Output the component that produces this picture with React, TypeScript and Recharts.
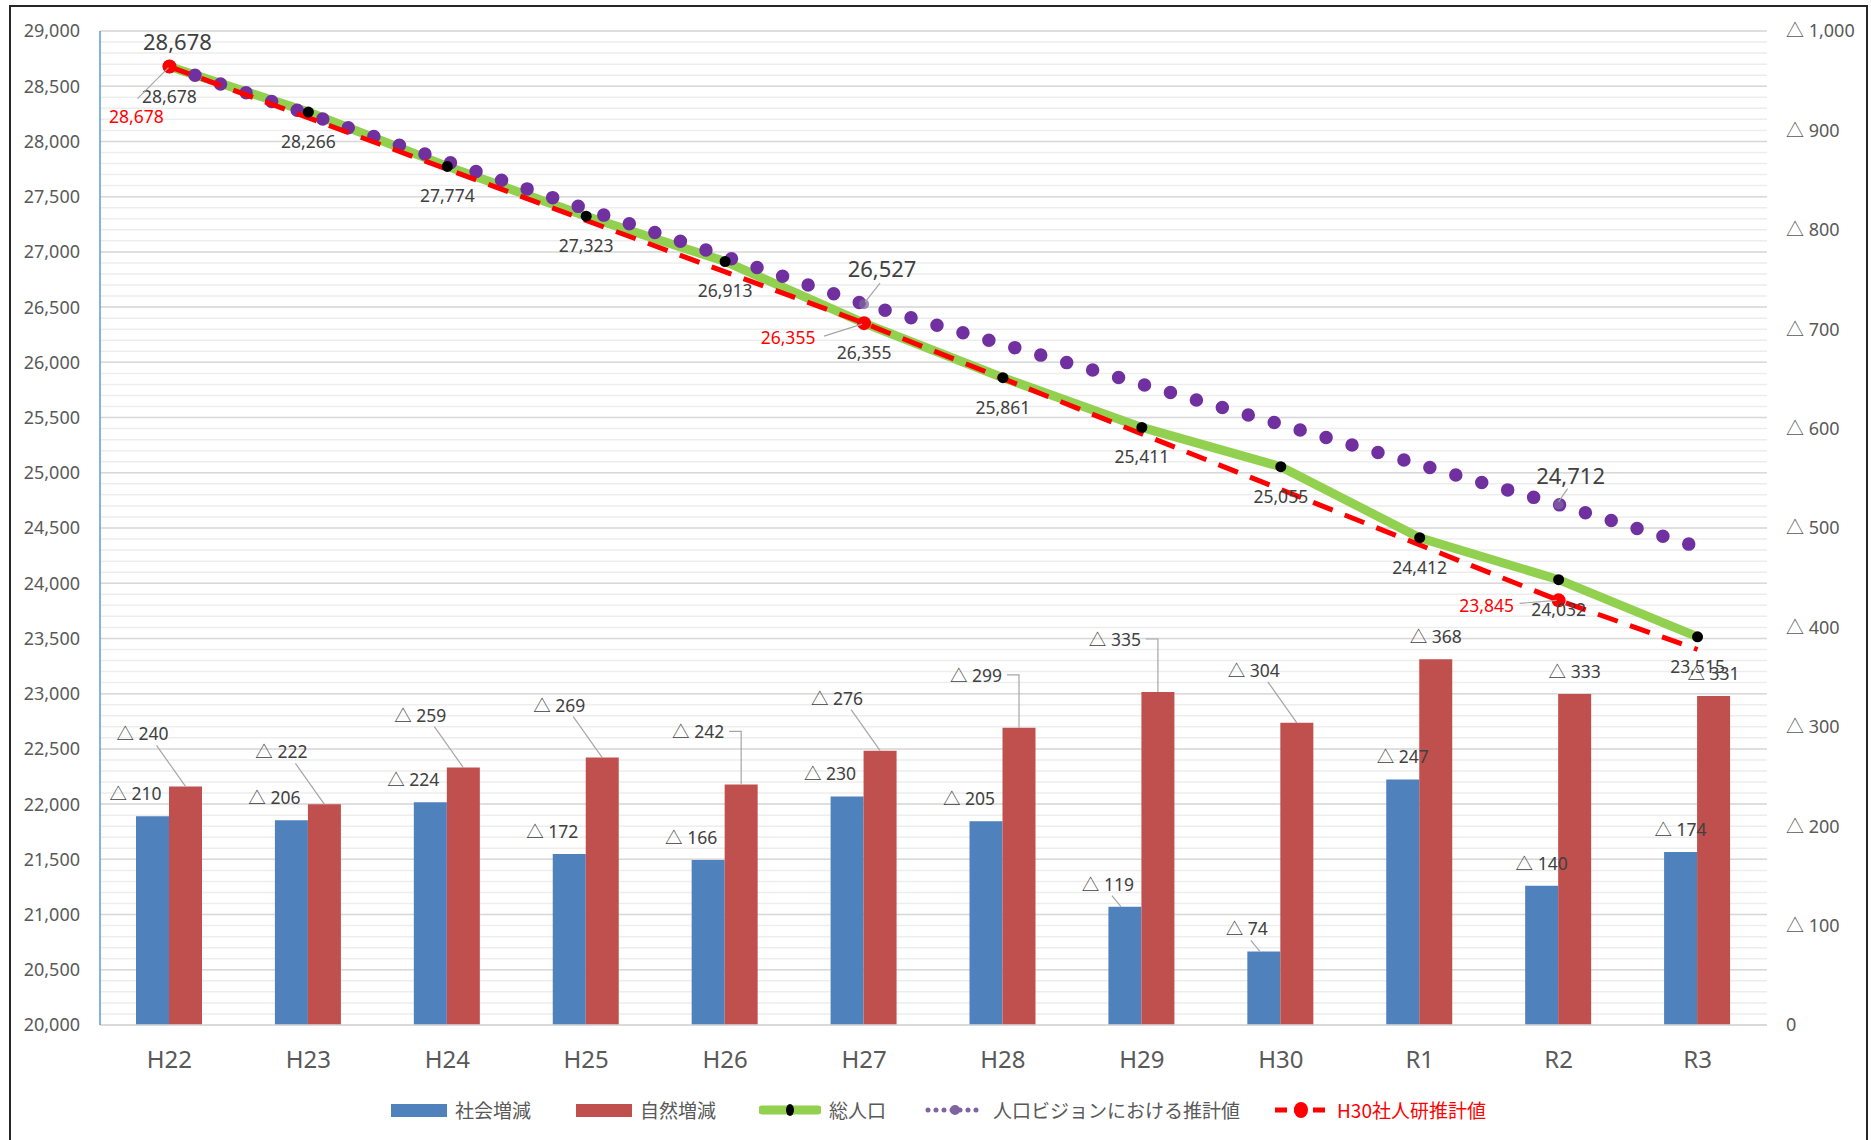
import React from 'react';
import { ComposedChart, Bar, Line, XAxis, YAxis, CartesianGrid, Legend, LabelList } from 'recharts';

const categories = ['H22', 'H23', 'H24', 'H25', 'H26', 'H27', 'H28', 'H29', 'H30', 'R1', 'R2', 'R3'];
const socialChange = [210, 206, 224, 172, 166, 230, 205, 119, 74, 247, 140, 174];
const naturalChange = [240, 222, 259, 269, 242, 276, 299, 335, 304, 368, 333, 331];
const totalPopulation = [28678, 28266, 27774, 27323, 26913, 26355, 25861, 25411, 25055, 24412, 24032, 23515];
const visionEstimate: (number | null)[] = [28678, null, null, null, null, 26527, null, null, null, null, 24712, 24330];
const ipssEstimate: (number | null)[] = [28678, null, null, null, null, 26355, null, null, null, null, 23845, 23400];
const leftTicks = [20000, 20500, 21000, 21500, 22000, 22500, 23000, 23500, 24000, 24500, 25000, 25500, 26000, 26500, 27000, 27500, 28000, 28500, 29000];
const rightTicks = [0, 100, 200, 300, 400, 500, 600, 700, 800, 900, 1000];
const labeledPoints = [0, 5, 10];

const seriesNames = {
  social: '社会増減',
  natural: '自然増減',
  total: '総人口',
  vision: '人口ビジョンにおける推計値',
  ipss: 'H30社人研推計値',
};

const data = categories.map((name, i) => ({
  name,
  social: socialChange[i],
  natural: naturalChange[i],
  total: totalPopulation[i],
  vision: visionEstimate[i],
  ipss: ipssEstimate[i],
}));

const minorGrid: number[] = [];
for (let v = leftTicks[0]; v <= leftTicks[leftTicks.length - 1]; v += 100) minorGrid.push(v);

const FONT = "'Noto Sans', 'Noto Sans CJK JP', sans-serif";
const JP = "'Noto Sans CJK JP', 'Noto Sans', sans-serif";
const TXT = '#404040';
const AXT = '#595959';
const LEADER = '#A6A6A6';
const BLUE = '#4F81BD';
const RED = '#C0504D';
const GREEN = '#92D050';
const PURPLE = '#7030A0';
const PRED = '#FF0000';

const fmt = (v: number) => v.toLocaleString('en-US');

const elbowIdx = [4, 6, 7];

const blueLabel = (p: any) => {
  const { x, y, width, value, index } = p;
  if (value == null) return null;
  const bx = x + width / 2;
  const cx = index < 9 ? bx - 17 : bx;
  const cy = y - 23;
  return (
    <g key={'bl' + index}>
      {(index === 7 || index === 8) && (
        <line x1={cx + 4} y1={cy + 12} x2={bx - 4} y2={y} stroke={LEADER} strokeWidth={1.2} />
      )}
      <text x={cx} y={cy} textAnchor="middle" dominantBaseline="central" fontSize={17.5} fill={TXT} fontFamily={FONT}>
        {'△ ' + value}
      </text>
    </g>
  );
};

const redLabel = (p: any) => {
  const { x, y, width, value, index } = p;
  if (value == null) return null;
  const bx = x + width / 2;
  if (index >= 9) {
    return (
      <text key={'rl' + index} x={bx} y={y - 23} textAnchor="middle" dominantBaseline="central" fontSize={17.5} fill={TXT} fontFamily={FONT}>
        {'△ ' + value}
      </text>
    );
  }
  const cx = bx - 43;
  const cy = y - 53;
  const elbow = elbowIdx.includes(index);
  return (
    <g key={'rl' + index}>
      {elbow ? (
        <path d={`M${cx + 31},${cy} H${bx} V${y}`} fill="none" stroke={LEADER} strokeWidth={1.2} />
      ) : (
        <line x1={cx + 14} y1={cy + 12} x2={bx} y2={y} stroke={LEADER} strokeWidth={1.2} />
      )}
      <text x={cx} y={cy} textAnchor="middle" dominantBaseline="central" fontSize={17.5} fill={TXT} fontFamily={FONT}>
        {'△ ' + value}
      </text>
    </g>
  );
};

const totalLabel = (p: any) => {
  const { x, y, value, index } = p;
  if (value == null) return null;
  return (
    <text key={'tl' + index} x={x} y={y + 29} textAnchor="middle" dominantBaseline="central" fontSize={17.5} fill={TXT} fontFamily={FONT}>
      {fmt(value)}
    </text>
  );
};

const visionLabel = (p: any) => {
  const { x, y, value, index } = p;
  if (value == null || !labeledPoints.includes(index)) return null;
  let cx = x + 8, cy = y - 26;
  let leader: React.ReactNode = null;
  if (index === 5) {
    cx = x + 18; cy = y - 36;
    leader = <line x1={cx - 2} y1={cy + 15} x2={x + 1} y2={y - 2} stroke={LEADER} strokeWidth={1.2} />;
  } else if (index === 10) {
    cx = x + 12; cy = y - 30;
    leader = <line x1={cx - 3} y1={cy + 14} x2={x} y2={y - 3} stroke={LEADER} strokeWidth={1.2} />;
  }
  return (
    <g key={'vl' + index}>
      {leader}
      <text x={cx} y={cy} textAnchor="middle" dominantBaseline="central" fontSize={22} fill={TXT} fontFamily={FONT}>
        {fmt(value)}
      </text>
    </g>
  );
};

const ipssLabel = (p: any) => {
  const { x, y, value, index } = p;
  if (value == null || !labeledPoints.includes(index)) return null;
  let cx = x - 33, cy = y + 49;
  let lx1 = cx + 1, ly1 = cy - 17, lx2 = x - 1, ly2 = y + 1;
  if (index === 5) {
    cx = x - 76; cy = y + 14;
    lx1 = cx + 36; ly1 = cy - 1; lx2 = x - 2; ly2 = y + 1;
  } else if (index === 10) {
    cx = x - 72; cy = y + 5;
    lx1 = cx + 33; ly1 = cy - 2; lx2 = x - 2; ly2 = y;
  }
  return (
    <g key={'il' + index}>
      <line x1={lx1} y1={ly1} x2={lx2} y2={ly2} stroke={LEADER} strokeWidth={1.2} />
      <text x={cx} y={cy} textAnchor="middle" dominantBaseline="central" fontSize={17.5} fill={PRED} fontFamily={FONT}>
        {fmt(value)}
      </text>
    </g>
  );
};

const totalDot = (p: any) => {
  if (p.cx == null || p.cy == null) return <g key={'td' + p.index} />;
  return <circle key={'td' + p.index} cx={p.cx} cy={p.cy} r={5.5} fill="#000" />;
};

const ipssDot = (p: any) => {
  if (p.cx == null || p.cy == null || p.value == null || !labeledPoints.includes(p.index)) return <g key={'id' + p.index} />;
  return <circle key={'id' + p.index} cx={p.cx} cy={p.cy} r={7} fill={PRED} />;
};

const visionDot = (p: any) => {
  if (p.cx == null || p.cy == null || p.value == null || (p.index !== 5 && p.index !== 10)) return <g key={'vd' + p.index} />;
  return <circle key={'vd' + p.index} cx={p.cx} cy={p.cy} r={5} fill="#8064A2" opacity={0.75} />;
};

const LegendContent = () => {
  const item = (left: number, symbol: React.ReactNode, label: string, color: string) => (
    <div key={label} style={{ position: 'absolute', left, top: 0, height: 26, display: 'flex', alignItems: 'center', whiteSpace: 'nowrap' }}>
      {symbol}
      <span style={{ marginLeft: 8, fontFamily: JP, fontSize: 19, color, lineHeight: '26px' }}>{label}</span>
    </div>
  );
  return (
    <div style={{ position: 'relative', width: 1871, height: 26 }}>
      {item(391, <div style={{ width: 56, height: 13, background: BLUE }} />, seriesNames.social, AXT)}
      {item(576, <div style={{ width: 56, height: 13, background: RED }} />, seriesNames.natural, AXT)}
      {item(
        759,
        <svg width={62} height={14}>
          <line x1={3} y1={7} x2={59} y2={7} stroke={GREEN} strokeWidth={9} strokeLinecap="round" />
          <ellipse cx={31} cy={7} rx={4} ry={6} fill="#000" />
        </svg>,
        seriesNames.total,
        AXT
      )}
      {item(
        925,
        <svg width={60} height={14}>
          <line x1={3} y1={7} x2={57} y2={7} stroke="#8064A2" strokeWidth={5} strokeDasharray="0 8" strokeLinecap="round" />
          <circle cx={30} cy={7} r={5} fill="#8064A2" />
        </svg>,
        seriesNames.vision,
        AXT
      )}
      {item(
        1273,
        <svg width={56} height={16}>
          <line x1={2} y1={8} x2={54} y2={8} stroke={PRED} strokeWidth={5} strokeDasharray="12 7" />
          <ellipse cx={28} cy={8} rx={7} ry={8} fill={PRED} />
        </svg>,
        seriesNames.ipss,
        PRED
      )}
    </div>
  );
};

export default function App() {
  return (
    <div style={{ position: 'absolute', left: 0, top: 0, width: 1871, height: 1140, overflow: 'hidden', background: '#fff' }}>
      <ComposedChart
        width={1871}
        height={1140}
        data={data}
        margin={{ top: 31, right: 0, bottom: 55, left: 0 }}
        barGap={0}
        style={{ fontFamily: FONT }}
      >
        <CartesianGrid yAxisId="left" vertical={false} horizontalValues={minorGrid} stroke="#EDEDED" strokeWidth={1.5} />
        <CartesianGrid yAxisId="left" vertical={false} horizontalValues={leftTicks} stroke="#D9D9D9" strokeWidth={1.5} />
        <XAxis
          dataKey="name"
          xAxisId={0}
          height={60}
          axisLine={{ stroke: '#D9D9D9', strokeWidth: 1.5 }}
          tickLine={false}
          tickMargin={20}
          tick={{ fontSize: 24, fill: AXT, fontFamily: FONT }}
          interval={0}
        />
        <YAxis
          yAxisId="left"
          width={100}
          domain={[leftTicks[0], leftTicks[leftTicks.length - 1]]}
          ticks={leftTicks}
          interval={0}
          tickFormatter={(v: number) => fmt(v)}
          axisLine={{ stroke: '#5B9BD5', strokeWidth: 1.5 }}
          tickLine={false}
          tickMargin={14}
          tick={{ fontSize: 18, fill: AXT, fontFamily: FONT }}
          allowDataOverflow
        />
        <YAxis
          yAxisId="right"
          orientation="right"
          width={104}
          domain={[rightTicks[0], rightTicks[rightTicks.length - 1]]}
          ticks={rightTicks}
          interval={0}
          tickFormatter={(v: number) => (v === 0 ? '0' : '△ ' + fmt(v))}
          axisLine={false}
          tickLine={false}
          tickMargin={13}
          tick={{ fontSize: 18, fill: AXT, fontFamily: FONT, textAnchor: 'start' }}
          allowDataOverflow
        />
        <Bar yAxisId="right" dataKey="social" name={seriesNames.social} fill={BLUE} barSize={33} isAnimationActive={false}>
          <LabelList dataKey="social" content={blueLabel} />
        </Bar>
        <Bar yAxisId="right" dataKey="natural" name={seriesNames.natural} fill={RED} barSize={33} isAnimationActive={false}>
          <LabelList dataKey="natural" content={redLabel} />
        </Bar>
        <Line
          yAxisId="left"
          dataKey="total"
          name={seriesNames.total}
          stroke={GREEN}
          strokeWidth={9}
          dot={totalDot}
          activeDot={false}
          isAnimationActive={false}
        >
          <LabelList dataKey="total" content={totalLabel} />
        </Line>
        <Line
          yAxisId="left"
          dataKey="vision"
          name={seriesNames.vision}
          stroke={PURPLE}
          strokeWidth={13.5}
          strokeDasharray="0 27"
          strokeLinecap="round"
          connectNulls
          dot={visionDot}
          activeDot={false}
          isAnimationActive={false}
        >
          <LabelList dataKey="vision" content={visionLabel} />
        </Line>
        <Line
          yAxisId="left"
          dataKey="ipss"
          name={seriesNames.ipss}
          stroke={PRED}
          strokeWidth={5}
          strokeDasharray="21 13"
          connectNulls
          dot={ipssDot}
          activeDot={false}
          isAnimationActive={false}
        >
          <LabelList dataKey="ipss" content={ipssLabel} />
        </Line>
        <Legend
          layout="horizontal"
          verticalAlign="middle"
          align="center"
          wrapperStyle={{ top: 1097, left: 0, width: 1871, height: 26 }}
          content={() => <LegendContent />}
        />
      </ComposedChart>
      <div
        style={{
          position: 'absolute',
          left: 9,
          top: 5,
          width: 1859,
          height: 1200,
          border: '2px solid #262626',
          boxSizing: 'border-box',
          pointerEvents: 'none',
        }}
      />
    </div>
  );
}
